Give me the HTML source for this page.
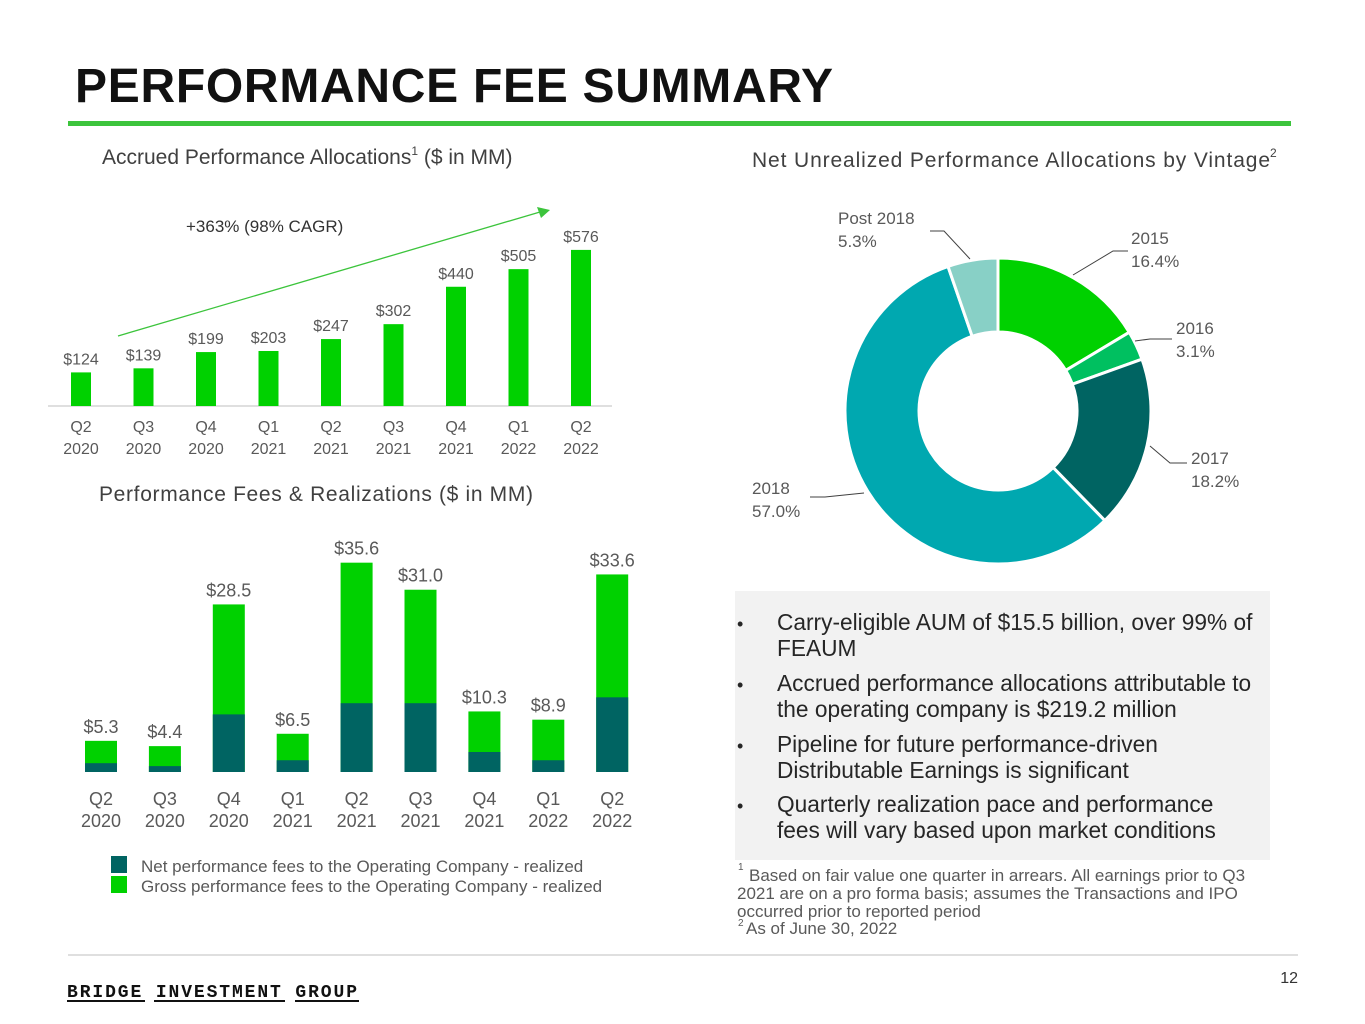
<!DOCTYPE html>
<html><head><meta charset="utf-8"><style>
html,body{margin:0;padding:0;background:#fff;}
svg{display:block;font-family:"Liberation Sans",sans-serif;}
.lbl{fill:#595959;font-size:16px;}
.ax{fill:#595959;font-size:16px;text-anchor:middle;}
</style></head><body>
<svg id="s" width="1365" height="1024" viewBox="0 0 1365 1024">
<text x="75" y="102" font-size="48" font-weight="bold" fill="#111" textLength="758">PERFORMANCE FEE SUMMARY</text>
<rect x="68" y="121" width="1223" height="5" fill="#3cc43c"/>
<text x="102" y="164" font-size="21" fill="#404040">Accrued Performance Allocations<tspan font-size="12" dy="-9">1</tspan><tspan dy="9"> ($ in MM)</tspan></text>
<text x="752" y="167" font-size="21" fill="#404040" textLength="518">Net Unrealized Performance Allocations by Vintage</text>
<text x="1270" y="157" font-size="12" fill="#404040">2</text>
<text x="99" y="501" font-size="21" fill="#404040" textLength="434">Performance Fees &amp; Realizations ($ in MM)</text>
<text x="186" y="232" font-size="17" fill="#333">+363% (98% CAGR)</text>
<line x1="118" y1="336" x2="540" y2="212" stroke="#3cc43c" stroke-width="1.3"/>
<polygon points="550,210 537,207 541,218" fill="#3cc43c"/>
<line x1="48" y1="406" x2="612" y2="406" stroke="#bfbfbf" stroke-width="1"/>
<g id="topChart"></g>
<g id="botChart"></g>
<rect x="111" y="856" width="16" height="17" fill="#006462"/>
<text x="141" y="872" class="lbl" style="font-size:17px">Net performance fees to the Operating Company - realized</text>
<rect x="111" y="876" width="16" height="17" fill="#00d100"/>
<text x="141" y="892" class="lbl" style="font-size:17px">Gross performance fees to the Operating Company - realized</text>
<g id="donut"></g>
<rect x="735" y="591" width="535" height="269" fill="#f2f2f2"/>
<g font-size="22.7" fill="#262626">
<text x="737" y="630" font-size="18">•</text><text x="777" y="630">Carry-eligible AUM of $15.5 billion, over 99% of</text><text x="777" y="656">FEAUM</text>
<text x="737" y="691" font-size="18">•</text><text x="777" y="691">Accrued performance allocations attributable to</text><text x="777" y="717">the operating company is $219.2 million</text>
<text x="737" y="752" font-size="18">•</text><text x="777" y="752">Pipeline for future performance-driven</text><text x="777" y="778">Distributable Earnings is significant</text>
<text x="737" y="812" font-size="18">•</text><text x="777" y="812">Quarterly realization pace and performance</text><text x="777" y="838">fees will vary based upon market conditions</text>
</g>
<g font-size="17" fill="#595959">
<text x="738" y="870" font-size="10">1</text><text x="749" y="881">Based on fair value one quarter in arrears. All earnings prior to Q3</text>
<text x="737" y="899">2021 are on a pro forma basis; assumes the Transactions and IPO</text>
<text x="737" y="917">occurred prior to reported period</text>
<text x="738" y="926" font-size="10">2</text><text x="746" y="934">As of June 30, 2022</text>
</g>
<line x1="68" y1="955" x2="1298" y2="955" stroke="#bfbfbf" stroke-width="1"/>
<g>
<text x="67" y="997" font-family="Liberation Mono,monospace" font-weight="bold" font-size="18" fill="#111" textLength="292" letter-spacing="2">BRIDGE INVESTMENT GROUP</text>
<rect x="67" y="1000" width="78" height="2" fill="#111"/><rect x="154" y="1000" width="131" height="2" fill="#111"/><rect x="295" y="1000" width="64" height="2" fill="#111"/>
</g>
<text x="1298" y="983" font-size="16" fill="#333" text-anchor="end">12</text>
</svg>
<script>
const NS="http://www.w3.org/2000/svg";
const quarters=["Q2","Q3","Q4","Q1","Q2","Q3","Q4","Q1","Q2"];
const years=["2020","2020","2020","2021","2021","2021","2021","2022","2022"];
const accrued=[124,139,199,203,247,302,440,505,576];
const gross=[5.3,4.4,28.5,6.5,35.6,31.0,10.3,8.9,33.6];
const net=[1.5,1.0,9.8,2.0,11.7,11.7,3.4,2.0,12.7];
const vintLabels=["2015","2016","2017","2018","Post 2018"];
const vintValues=[16.4,3.1,18.2,57.0,5.3];

function mk(tag,attrs,parent){const e=document.createElementNS(NS,tag);for(const k in attrs)e.setAttribute(k,attrs[k]);parent.appendChild(e);return e;}
const topG=document.getElementById("topChart");
const tx=i=>81+i*62.5, ty=v=>406-v*0.271;
accrued.forEach((v,i)=>{
 const r=mk("rect",{x:tx(i)-10,y:ty(v),width:20,height:406-ty(v),fill:"#00d100"},topG);
 
 
 const t=mk("text",{x:tx(i),y:ty(v)-8,class:"ax"},topG);t.textContent="$"+v;
 
 
 const a=mk("text",{x:tx(i),y:432,class:"ax"},topG);a.textContent=quarters[i];
 
 
 const b=mk("text",{x:tx(i),y:454,class:"ax"},topG);b.textContent=years[i];
 
 
});
const botG=document.getElementById("botChart");
const bx=i=>101+i*63.9, by=v=>772-v*5.88;
gross.forEach((v,i)=>{
 const g=mk("rect",{x:bx(i)-16,y:by(v),width:32,height:772-by(v),fill:"#00d100"},botG);
 
 
 const n=mk("rect",{x:bx(i)-16,y:by(net[i]),width:32,height:772-by(net[i]),fill:"#006462"},botG);
 
 
 const t=mk("text",{x:bx(i),y:by(v)-8,class:"ax",style:"font-size:18px"},botG);t.textContent="$"+v.toFixed(1);
 
 
 const a=mk("text",{x:bx(i),y:805,class:"ax",style:"font-size:18px"},botG);a.textContent=quarters[i];
 
 
 const b=mk("text",{x:bx(i),y:827,class:"ax",style:"font-size:18px"},botG);b.textContent=years[i];
 
 
});
const dg=document.getElementById("donut");
const cx=998,cy=411,R=153,r0=79;
const cols=["#00d100","#00c060","#006462","#00a8b0","#88d0c6"];
const total=vintValues.reduce((a,b)=>a+b,0);
let ang=0;
const pt=(a,rr)=>[cx+rr*Math.sin(a),cy-rr*Math.cos(a)];
vintValues.forEach((v,i)=>{
 const a0=ang,a1=ang+v/total*2*Math.PI;ang=a1;
 const lg=(a1-a0)>Math.PI?1:0;
 const p1=pt(a0,R),p2=pt(a1,R),p3=pt(a1,r0),p4=pt(a0,r0);
 const p=mk("path",{d:`M${p1}A${R},${R} 0 ${lg} 1 ${p2}L${p3}A${r0},${r0} 0 ${lg} 0 ${p4}Z`,fill:cols[i],stroke:"#fff","stroke-width":3},dg);
 
 
});
const lab=[[1131,244,[[1073,275],[1113,251],[1128,251]]],[1176,334,[[1135,341],[1150,339],[1172,339]]],[1191,464,[[1150,446],[1170,463],[1187,463]]],[752,494,[[864,493],[825,497],[810,497]]],[838,224,[[970,259],[944,231],[930,231]]]];
vintLabels.forEach((l,i)=>{
 const [x,y,pts]=lab[i];
 const pl=mk("polyline",{points:pts.map(p=>p.join(",")).join(" "),fill:"none",stroke:"#404040","stroke-width":1},dg);
 
 
 const t=mk("text",{x:x,y:y,class:"lbl",style:"font-size:17px"},dg);t.textContent=l;
 
 
 const t2=mk("text",{x:x,y:y+23,class:"lbl",style:"font-size:17px"},dg);t2.textContent=vintValues[i].toFixed(1)+"%";
 
 
});
</script>
</body></html>
